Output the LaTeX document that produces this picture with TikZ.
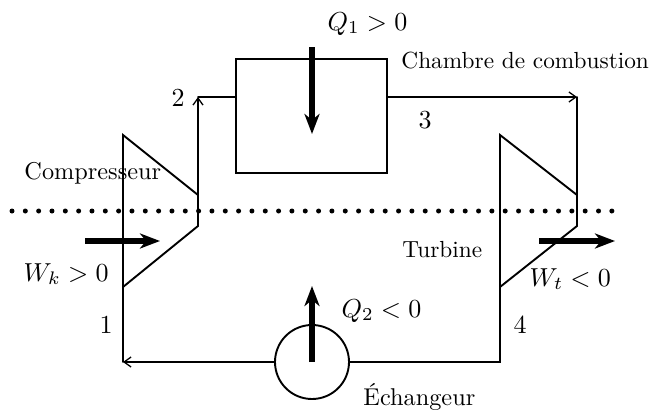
\documentclass[tikz,border=0pt]{standalone}
\usetikzlibrary{arrows.meta}
\tikzset{
  lab/.style={scale=2.33,inner sep=0pt,anchor=base west},
  labb/.style={scale=2.43,inner sep=0pt,anchor=base west},
  labm/.style={scale=2.6,inner sep=0pt,anchor=base west},
  pipe/.style={line width=1.9pt,line cap=round,line join=miter},
  flow/.style={pipe,-{Straight Barb[length=7pt,width=10pt,line width=1.3pt]}},
  work/.style={line width=5.2pt,-{Stealth[length=20pt,width=15pt,inset=6pt]}},
  dots/.style={line width=5pt,line cap=round,dash pattern=on 0pt off 13.33pt}
}
\begin{document}
\begin{tikzpicture}[x=1pt,y=-1pt]
\useasboundingbox (0,0) rectangle (661,410);
% coordinates
\coordinate (p2) at (198,97);
\coordinate (p3) at (577,97);
\coordinate (cO) at (198,195);
\coordinate (tI) at (577,195);
\coordinate (p1) at (123,362);
\coordinate (p4) at (500,362);
\coordinate (q1a) at (312,47);
\coordinate (q1b) at (312,134);
\coordinate (q2a) at (312,362);
\coordinate (q2b) at (312,286);
\coordinate (wka) at (85,241);
\coordinate (wkb) at (160,241);
\coordinate (wta) at (539,241);
\coordinate (wtb) at (615,241);
\coordinate (da) at (12,211);
\coordinate (db) at (620,211);
% shapes
\node[pipe,draw,minimum width=151pt,minimum height=114pt,inner sep=0pt] (cc) at (311.5,116) {};
\node[pipe,draw,circle,minimum size=74pt,inner sep=0pt] (ex) at (312,362) {};
\draw[pipe] (123,135) -- (cO) -- (198,226) -- (123,287) -- cycle;
\draw[pipe] (500,135) -- (tI) -- (577,226) -- (500,287) -- cycle;
% connectors
\draw[flow] (cO) -- (p2);
\draw[pipe] (p2) -- (p2 -| cc.west);
\draw[flow] (p3 -| cc.east) -- (p3);
\draw[pipe] (p3) -- (tI);
\draw[flow] (ex.west) -- (p1);
\draw[pipe] (p1) -- (123,287);
\draw[pipe] (ex.east) -- (p4) -- (500,287);
\draw[dots] (da) -- (db);
\draw[work] (q1a) -- (q1b);
\draw[work] (q2a) -- (q2b);
\draw[work] (wka) -- (wkb);
\draw[work] (wta) -- (wtb);
% labels
\node[labm] (lq1) at (327,30) {$Q_1>0$};
\node[lab] (lcc) at (401,68) {Chambre de combustion};
\node[labm] (l2) at (171,106) {2};
\node[labm] (l3) at (418,128) {3};
\node[labb] (lc) at (24,179) {Compresseur};
\node[lab] (lt) at (402,257) {Turbine};
\node[labm] (lwk) at (23,281) {$W_k>0$};
\node[labm] (lwt) at (529,286) {$W_t<0$};
\node[labm] (lq2) at (341,317) {$Q_2<0$};
\node[labm] (l1) at (99,333) {1};
\node[labm] (l4) at (513,333) {4};
\node[labb] (lex) at (363,405) {\'Echangeur};
\end{tikzpicture}
\end{document}
